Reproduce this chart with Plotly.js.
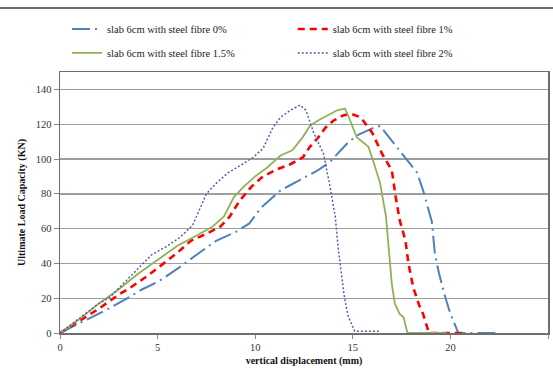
<!DOCTYPE html>
<html>
<head>
<meta charset="utf-8">
<script src="https://cdn.plot.ly/plotly-3.0.1.min.js"></script>
<style>
  html, body { margin: 0; padding: 0; background: #fff; }
  #chart { width: 553px; height: 369px; }
</style>
</head>
<body>
<div id="chart"></div>
<script>
// Load–displacement curves of 6 cm slabs with different steel fibre contents
const seriesNames = [
  'slab 6cm with steel fibre 0%',
  'slab 6cm with steel fibre 1%',
  'slab 6cm with steel fibre 1.5%',
  'slab 6cm with steel fibre 2%'
];

// vertical displacement (mm) / ultimate load (kN)
const dispFibre0 = [0, 1, 2, 2.5, 3.3, 4.2, 5.1, 6.15, 7, 8, 9, 9.7, 10.3, 10.9, 11.3, 12.3, 13.2, 13.8, 14.3, 14.8, 15.3, 16.0, 16.4, 16.9, 17.3, 17.8, 18.3, 18.6, 18.85, 19.05, 19.2, 19.4, 19.7, 20.0, 20.3, 20.4, 21.2, 22.5];
const loadFibre0 = [0, 5.5, 11, 14, 19, 25, 30, 38, 45, 53, 58, 63, 72, 78, 82, 88, 93.5, 98, 104, 110, 114, 117.6, 119, 112, 106, 99, 92, 82, 72, 64, 46, 35, 22, 11, 3, 0, 0, 0];

const dispFibre1 = [0, 1, 2, 3, 3.6, 4.5, 5.1, 6, 6.7, 7.5, 8.2, 8.7, 9.2, 9.8, 10.4, 11.1, 11.8, 12.45, 12.8, 13.2, 13.6, 14, 14.5, 14.9, 15.4, 16.0, 16.5, 17.0, 17.2, 17.4, 17.7, 17.85, 18.1, 18.4, 18.6, 18.8, 18.9, 19.5, 20.2, 20.85];
const loadFibre1 = [0, 7, 14, 22, 26, 33, 38, 46, 53, 57, 61, 67, 76, 84, 90, 94, 97, 101, 107, 112, 118, 122, 125, 126, 124, 115, 103, 93.5, 78, 65, 53, 40, 26, 16, 11, 3, 0, 0, 0, 0];

const dispFibre15 = [0, 1, 2, 3, 4, 5, 6, 7, 7.8, 8.4, 8.9, 9.4, 10, 10.6, 11.3, 11.9, 12.4, 12.8, 13.2, 13.7, 14.2, 14.6, 14.8, 15.2, 15.5, 15.8, 16.1, 16.4, 16.7, 16.85, 17.0, 17.15, 17.4, 17.6, 17.8, 18.6, 19.2, 19.8];
const loadFibre15 = [0, 8, 17, 25, 34, 42, 50, 56, 61, 67, 78, 84, 90, 95, 102, 105, 112, 119, 122, 125, 128, 129, 124, 112.5, 110, 107, 97, 86, 67, 45, 28, 17, 11, 9, 0, 0, 0, 0];

const dispFibre2 = [0, 1, 2, 2.56, 3.76, 4.7, 5.5, 6.15, 6.8, 7.2, 7.5, 8, 8.6, 9.2, 9.9, 10.4, 10.9, 11.3, 11.8, 12.3, 12.6, 13.0, 13.5, 13.8, 14.1, 14.25, 14.4, 14.55, 14.75, 15.0, 15.1, 15.5, 16.4];
const loadFibre2 = [0, 8.5, 17, 20.6, 34, 45, 50, 55, 62, 72, 80, 86, 92, 96, 101, 106, 118, 124, 128, 131, 128, 115, 103, 86, 67, 49, 35, 22, 10, 3, 1, 1, 1];

const xTicks = [0, 5, 10, 15, 20, 25];
const yTicks = [0, 20, 40, 60, 80, 100, 120, 140];

const serif = 'Liberation Serif, Times New Roman, serif';

const traces = [
  {
    x: dispFibre0, y: loadFibre0, name: seriesNames[0], legend: 'legend',
    mode: 'lines', line: { color: '#4F81BD', width: 2, dash: '18px,5px,2px,5px' }
  },
  {
    x: dispFibre1, y: loadFibre1, name: seriesNames[1], legend: 'legend2',
    mode: 'lines', line: { color: '#FF0000', width: 2.6, dash: '7px,5px' }
  },
  {
    x: dispFibre15, y: loadFibre15, name: seriesNames[2], legend: 'legend3',
    mode: 'lines', line: { color: '#8DB356', width: 1.8 }
  },
  {
    x: dispFibre2, y: loadFibre2, name: seriesNames[3], legend: 'legend4',
    mode: 'lines', line: { color: '#5560A8', width: 1.5, dash: '2px,2px' }
  }
];

// one single-entry legend per cell of the 2 x 2 key
function keyCell(x, y) {
  return {
    orientation: 'h',
    xanchor: 'left', yanchor: 'middle',
    x: x, y: y,
    bgcolor: 'rgba(0,0,0,0)',
    font: { family: serif, size: 10.5, color: '#222' },
    itemwidth: 30
  };
}

const layout = {
  width: 553, height: 369,
  margin: { l: 60, r: 5, t: 72, b: 36 },
  paper_bgcolor: '#fff', plot_bgcolor: '#fff',
  showlegend: true,
  legend: keyCell(0.0143, 1.165),
  legend2: keyCell(0.477, 1.165),
  legend3: keyCell(0.0143, 1.073),
  legend4: keyCell(0.477, 1.073),
  font: { family: serif, color: '#222' },
  xaxis: {
    range: [0, 25],
    tickvals: xTicks,
    ticktext: xTicks.map(String),
    ticks: 'outside', ticklen: 4, tickcolor: '#888',
    showgrid: false, zeroline: false,
    showline: true, linecolor: '#6E6E6E', linewidth: 1.5, mirror: true,
    tickfont: { family: serif, size: 10.5, color: '#333' },
    title: { text: 'vertical displacement (mm)', font: { family: serif, size: 10, color: '#111', weight: 'bold' }, standoff: 5 }
  },
  yaxis: {
    range: [0, 150],
    tickvals: yTicks,
    ticktext: yTicks.map(String),
    ticks: 'outside', ticklen: 5, tickcolor: '#888',
    showgrid: true, gridcolor: '#9E9E9E', gridwidth: 1.4,
    zeroline: false,
    showline: true, linecolor: '#6E6E6E', linewidth: 1.5, mirror: true,
    tickfont: { family: serif, size: 10.5, color: '#333' },
    title: { text: 'Ultimate Load Capacity (KN)', font: { family: serif, size: 10, color: '#111', weight: 'bold' }, standoff: 8 }
  },
  shapes: [
    // outer chart frame, top edge
    { type: 'line', xref: 'paper', yref: 'paper', x0: -0.125, x1: 1.011, y0: 1.245, y1: 1.245,
      line: { color: '#6E6E6E', width: 2 } }
  ]
};

Plotly.newPlot('chart', traces, layout, { staticPlot: true, displayModeBar: false });
</script>
</body>
</html>
